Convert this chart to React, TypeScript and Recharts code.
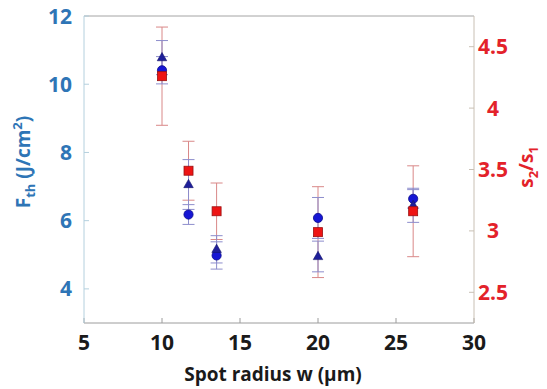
import { ErrorBar, Label, Scatter, ScatterChart, XAxis, YAxis } from "recharts";

const radius = [10, 11.7, 13.5, 20, 26.1];
const fthCircle = [10.41, 6.18, 4.98, 6.08, 6.64];
const fthCircleErr = [0.4, 0.29, 0.4, 0.6, 0.27];
const fthTriangle = [10.78, 7.06, 5.16, 4.95, 6.45];
const fthTriangleErr = [0.5, 0.73, 0.4, 0.45, 0.5];
const ratio = [4.26, 3.49, 3.16, 2.99, 3.16];
const ratioErr = [0.4, 0.24, 0.23, 0.37, 0.37];

const xTicks = [5, 10, 15, 20, 25, 30];
const leftTicks = [4, 6, 8, 10, 12];
const rightTicks = [2.5, 3, 3.5, 4, 4.5];

const FONT = "'Open Sans', 'DejaVu Sans', sans-serif";
const BLUE_TEXT = "#2e75b6";
const RED_TEXT = "#e3222a";

const circles = radius.map((x, i) => ({ x, y: fthCircle[i], err: fthCircleErr[i] }));
const triangles = radius.map((x, i) => ({ x, y: fthTriangle[i], err: fthTriangleErr[i] }));
const squares = radius.map((x, i) => ({ x, y: ratio[i], err: ratioErr[i] }));

function CircleShape(p: any) {
  return <circle cx={p.cx} cy={p.cy} r={4.6} fill="#1616d4" stroke="#0c0c8c" strokeWidth={0.8} />;
}

function TriangleShape(p: any) {
  const s = 9.5;
  const h = s * 0.87;
  return (
    <path
      d={`M${p.cx},${p.cy - h * 0.62} L${p.cx + s / 2},${p.cy + h * 0.38} L${p.cx - s / 2},${p.cy + h * 0.38} Z`}
      fill="#1e1e9a"
      stroke="#12126a"
      strokeWidth={0.6}
    />
  );
}

function SquareShape(p: any) {
  const s = 9;
  return <rect x={p.cx - s / 2} y={p.cy - s / 2} width={s} height={s} fill="#ee1414" stroke="#9a1010" strokeWidth={0.8} />;
}

function NoShape() {
  return <g />;
}

function BottomTick({ x, y, payload }: any) {
  return (
    <text x={x} y={y + 27} textAnchor="middle" fill="#1a1a1a" fontSize={21} fontWeight={700} fontFamily={FONT}>
      {payload.value}
    </text>
  );
}

function LeftTick({ x, y, payload }: any) {
  return (
    <text x={x - 12} y={y + 7.5} textAnchor="end" fill={BLUE_TEXT} fontSize={21} fontWeight={700} fontFamily={FONT}>
      {payload.value}
    </text>
  );
}

function RightTick({ x, y, payload }: any) {
  return (
    <text x={x + 19} y={y + 7.5} textAnchor="middle" fill={RED_TEXT} fontSize={21} fontWeight={700} fontFamily={FONT}>
      {payload.value}
    </text>
  );
}

function XTitle() {
  return (
    <text x={273} y={381} textAnchor="middle" fill="#1a1a1a" fontSize={19} fontWeight={700} fontFamily={FONT}>
      Spot radius w (µm)
    </text>
  );
}

function LeftTitle() {
  return (
    <text transform="translate(30,162) rotate(-90)" textAnchor="middle" fill={BLUE_TEXT} fontSize={19} fontWeight={700} fontFamily={FONT}>
      F
      <tspan fontSize={13} dy={5}>th</tspan>
      <tspan dy={-5}> (J/cm</tspan>
      <tspan fontSize={13} dy={-8}>2</tspan>
      <tspan dy={8}>)</tspan>
    </text>
  );
}

function RightTitle() {
  return (
    <text transform="translate(533,167) rotate(-90)" textAnchor="middle" fill={RED_TEXT} fontSize={19} fontWeight={700} fontFamily={FONT}>
      s
      <tspan fontSize={13} dy={5}>2</tspan>
      <tspan dy={-5}>/s</tspan>
      <tspan fontSize={13} dy={5}>1</tspan>
    </text>
  );
}

export default function App() {
  return (
    <div style={{ position: "absolute", left: 0, top: 0, background: "#fff" }}>
      <ScatterChart width={547} height={389} margin={{ top: 0, right: 0, bottom: 0, left: 0 }}>
        <XAxis
          xAxisId="b"
          dataKey="x"
          type="number"
          domain={[5, 30]}
          ticks={xTicks}
          height={66}
          tickSize={-5}
          tickMargin={5}
          axisLine={{ stroke: "#9c9c9c" }}
          tickLine={{ stroke: "#9c9c9c" }}
          tick={<BottomTick />}
          allowDataOverflow
        >
          <Label content={<XTitle />} />
        </XAxis>
        <XAxis
          xAxisId="t"
          orientation="top"
          type="number"
          domain={[5, 30]}
          ticks={xTicks}
          height={16}
          tickSize={-5}
          tick={false}
          axisLine={{ stroke: "#a4a4a4" }}
          tickLine={{ stroke: "#a4a4a4" }}
          allowDataOverflow
        />
        <YAxis
          yAxisId="l"
          dataKey="y"
          type="number"
          domain={[3, 12]}
          ticks={leftTicks}
          width={84}
          tickSize={-5}
          tickMargin={5}
          axisLine={{ stroke: "#b4d0de" }}
          tickLine={{ stroke: "#b4d0de" }}
          tick={<LeftTick />}
          allowDataOverflow
        >
          <Label content={<LeftTitle />} />
        </YAxis>
        <YAxis
          yAxisId="r"
          orientation="right"
          dataKey="y"
          type="number"
          domain={[2.25, 4.75]}
          ticks={rightTicks}
          width={73}
          tickSize={-5}
          tickMargin={5}
          axisLine={{ stroke: "#c9c0b4" }}
          tickLine={{ stroke: "#c9c0b4" }}
          tick={<RightTick />}
          allowDataOverflow
        >
          <Label content={<RightTitle />} />
        </YAxis>

        <Scatter data={squares} xAxisId="b" yAxisId="r" shape={<NoShape />} isAnimationActive={false}>
          <ErrorBar dataKey="err" direction="y" width={6} stroke="#d98888" strokeWidth={1} isAnimationActive={false} />
        </Scatter>
        <Scatter data={circles} xAxisId="b" yAxisId="l" shape={<NoShape />} isAnimationActive={false}>
          <ErrorBar dataKey="err" direction="y" width={6} stroke="#8d8dcc" strokeWidth={1} isAnimationActive={false} />
        </Scatter>
        <Scatter data={triangles} xAxisId="b" yAxisId="l" shape={<NoShape />} isAnimationActive={false}>
          <ErrorBar dataKey="err" direction="y" width={6} stroke="#8d8dcc" strokeWidth={1} isAnimationActive={false} />
        </Scatter>
        <Scatter data={circles} xAxisId="b" yAxisId="l" shape={<CircleShape />} isAnimationActive={false} />
        <Scatter data={triangles} xAxisId="b" yAxisId="l" shape={<TriangleShape />} isAnimationActive={false} />
        <Scatter data={squares} xAxisId="b" yAxisId="r" shape={<SquareShape />} isAnimationActive={false} />
      </ScatterChart>
    </div>
  );
}
